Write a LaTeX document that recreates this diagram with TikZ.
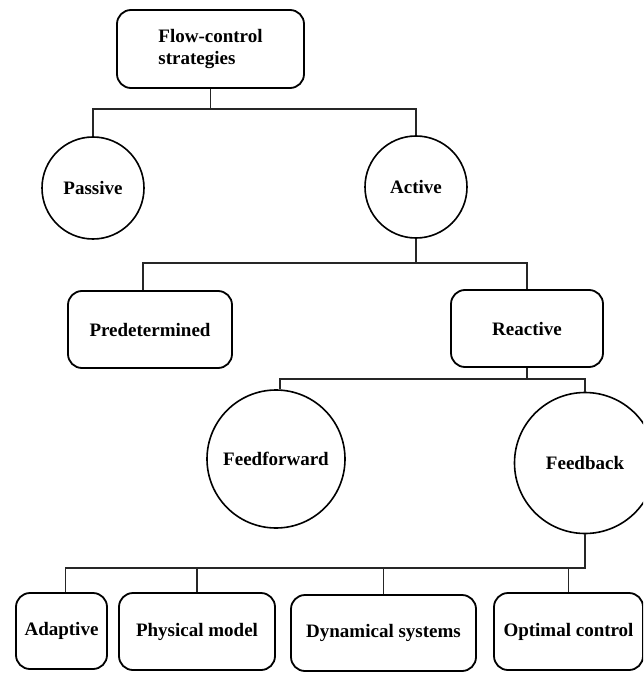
\documentclass[tikz,border=0pt]{standalone}
\usepackage{fontspec}
\setmainfont{Liberation Serif}

\begin{document}
\begin{tikzpicture}[
    x=1pt, y=-1pt,
    font=\bfseries\fontsize{19}{22}\selectfont
]
\tikzset{
    mybox/.style = {rectangle, rounded corners=14pt, draw=black, line width=1.8pt, align=center, inner sep=0pt},
    mycircle/.style = {circle, draw=black, line width=1.6pt, align=center, inner sep=0pt},
    edgen/.style = {-, line width=1.1pt, black!85}
}
\clip (0,0) rectangle (643,674);
% levels 1 and 2
\node[mybox, minimum width=187pt, minimum height=78pt, align=left] at (210.5,49) (flow) {Flow-control\\strategies};
\node[mycircle, minimum size=102pt] at (93,188) (passive) {Passive};
\node[mycircle, minimum size=102pt] at (416,187) (active) {Active};
% level 3
\node[mybox, minimum width=164pt, minimum height=77pt] at (150,329.5) (predet) {Predetermined};
\node[mybox, minimum width=152pt, minimum height=77pt] at (527,328.5) (reactive) {Reactive};
% level 4
\node[mycircle, minimum size=138pt] at (276,459) (feedfwd) {Feedforward};
\node[mycircle, minimum size=141pt] at (585,463) (feedback) {Feedback};
% level 5
\node[mybox, minimum width=91pt, minimum height=76pt] at (61.5,631) (adaptive) {Adaptive};
\node[mybox, minimum width=156pt, minimum height=77pt] at (197,631.5) (physical) {Physical model};
\node[mybox, minimum width=185pt, minimum height=76pt] at (383.5,633) (dynamical) {Dynamical systems};
\node[mybox, minimum width=149pt, minimum height=77pt] at (568.5,631.5) (optimal) {Optimal control};
% bus points
\coordinate (bus1) at (210.5,109);
\coordinate (bus2) at (416,263);
\coordinate (bus3) at (527,379);
\coordinate (bus4) at (585,568);
% connectors
\draw[edgen] (flow) -- (bus1);
\draw[edgen] (passive.north) |- (bus1) -| (active.north);
\draw[edgen] (active) -- (bus2);
\draw[edgen] ([xshift=-7pt]predet.north) |- (bus2) -| (reactive.north);
\draw[edgen] (reactive) -- (bus3);
\draw[edgen] ([xshift=4pt]feedfwd.north) |- (bus3) -| (feedback.north);
\draw[edgen] (feedback) -- (bus4) -| ([xshift=4pt]adaptive.north);
\foreach \n in {physical,dynamical,optimal}
    \draw[edgen] (\n.north) -- (\n.north |- bus4);
\end{tikzpicture}
\end{document}
